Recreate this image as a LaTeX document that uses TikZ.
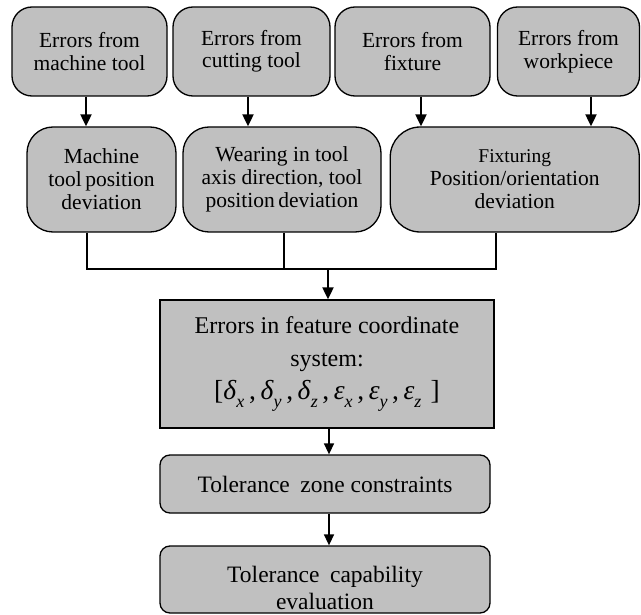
\documentclass[tikz,border=0pt]{standalone}
\usepackage{fontspec}
\setmainfont{Liberation Serif}
\usetikzlibrary{arrows.meta,calc}
\definecolor{boxgray}{HTML}{C0C0C0}
% subscript set low under a Greek letter
\newcommand\errsub[1]{\raisebox{-8pt}{\fontsize{18}{18}\selectfont\textit{#1}}}
\tikzset{
  basebox/.style={draw, line width=1.3pt, fill=boxgray, align=center, inner sep=0pt},
  srcbox/.style={basebox, rounded corners=20pt, font=\fontsize{21.5}{22.5}\selectfont},
  effbox/.style={basebox, rounded corners=26pt, font=\fontsize{21.5}{23}\selectfont},
  featbox/.style={basebox, font=\fontsize{24}{32.5}\selectfont},
  tolbox/.style={basebox, rounded corners=10pt, font=\fontsize{23.5}{27}\selectfont},
  arr/.style={line width=2pt, -{Triangle[length=12pt,width=11pt]}},
  thinarr/.style={line width=1.5pt, -{Triangle[length=11pt,width=10pt]}},
  conn/.style={line width=2pt}
}
\begin{document}
\begin{tikzpicture}[x=1pt,y=-1pt]
\useasboundingbox (0,0) rectangle (641,615);

% sources of error
\node[srcbox, minimum width=155pt, minimum height=89pt] (b1) at (89.5,51.5) {Errors from\\machine tool};
\node[srcbox, minimum width=157pt, minimum height=89pt] (b2) at (251.5,51.5) {Errors from\\cutting tool};
\node[srcbox, minimum width=155pt, minimum height=89pt] (b3) at (412.5,51.5) {Errors from\\fixture};
\node[srcbox, minimum width=142pt, minimum height=89pt] (b4) at (568.5,51.5) {Errors from\\workpiece};

% resulting deviations
\node[effbox, minimum width=149pt, minimum height=105pt] (rA) at (101.5,179.5) {Machine\\tool\,position\\deviation};
\node[effbox, minimum width=198pt, minimum height=105pt] (rB) at (282,179.5) {Wearing in tool\\axis direction, tool\\position\,deviation};
\node[effbox, rounded corners=30pt, minimum width=249pt, minimum height=105pt] (rC) at (514.75,179.5)
  {{\fontsize{19.5}{23}\selectfont Fixturing}\\Position/orientation\\deviation};

% feature coordinate system
\node[featbox, minimum width=334pt, minimum height=128pt] (feat) at (327,364)
  {Errors in feature coordinate\\system:\\[1pt]
   {\fontsize{27.5}{27.5}\selectfont[\textit{δ}\errsub{x}\,,\,\textit{δ}\errsub{y}\,,\,\textit{δ}\errsub{z}\,,\,\textit{ε}\errsub{x}\,,\,\textit{ε}\errsub{y}\,,\,\textit{ε}\errsub{z}\,\,]}};

% tolerance analysis
\node[tolbox, minimum width=330pt, minimum height=58pt] (tol) at (325,484) {Tolerance\hspace{0.45em}zone constraints};
\node[tolbox, minimum width=330pt, minimum height=67pt] (cap) at (325,579.5) {\rule{0pt}{34pt}Tolerance\hspace{0.45em}capability\\evaluation};

% arrows from sources to deviations
\draw[arr] ([xshift=-3.5pt]b1.south) -- ([xshift=-3.5pt]b1.south |- rA.north);
\draw[arr] ([xshift=-3.5pt]b2.south) -- ([xshift=-3.5pt]b2.south |- rB.north);
\draw[arr] ([xshift=8.5pt]b3.south) -- ([xshift=8.5pt]b3.south |- rC.north);
\draw[arr] ([xshift=22.5pt]b4.south) -- ([xshift=22.5pt]b4.south |- rC.north);

% bus joining the deviations
\coordinate (bus) at (0,269);
\draw[conn] ([xshift=-14.5pt]rA.south) |- ([xshift=-18.75pt]rC.south |- bus) -- ([xshift=-18.75pt]rC.south);
\draw[conn] ([xshift=2pt]rB.south) -- ([xshift=2pt]rB.south |- bus);
\draw[arr] ([xshift=1pt]feat.north |- bus) -- ([xshift=1pt]feat.north);

% downstream arrows
\draw[thinarr] ([xshift=2pt]feat.south) -- ([xshift=2pt]feat.south |- tol.north);
\draw[thinarr] ([xshift=4pt]tol.south) -- ([xshift=4pt]tol.south |- cap.north);
\end{tikzpicture}
\end{document}
